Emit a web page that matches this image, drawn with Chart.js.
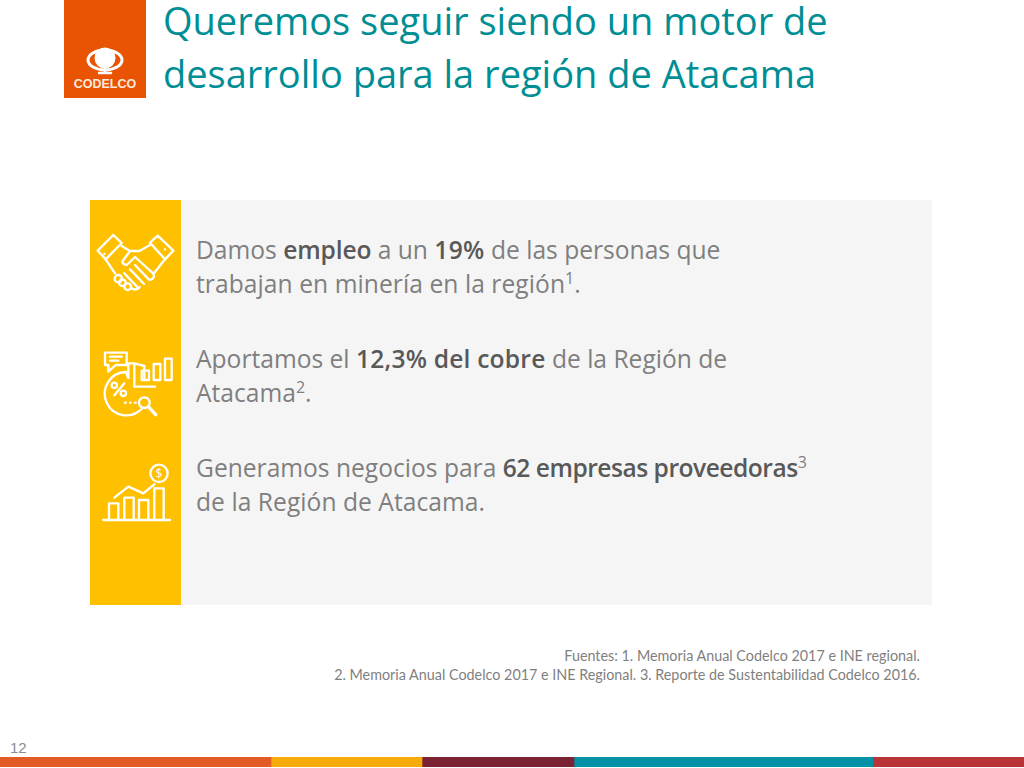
<!DOCTYPE html>
<html lang="es">
<head>
<meta charset="utf-8">
<title>Codelco Atacama</title>
<script src="https://cdn.jsdelivr.net/npm/chart.js@4"></script>
<style>
  html, body { margin: 0; padding: 0; background: #fff; overflow: hidden; }
  #slide { position: relative; width: 1024px; height: 768px; overflow: hidden; font-family: "Open Sans", sans-serif; }
  #slide > * { position: absolute; }
  .logo { left: 64px; top: 0; width: 82px; height: 98px; background: #e85403; }
  .panel { left: 90px; top: 200px; width: 842px; height: 405px; background: #f5f5f5; }
  .stripe { left: 90px; top: 200px; width: 90.5px; height: 405px; background: #ffc000; }
  .title { left: 163px; font-size: 38px; line-height: 44px; color: #008e95; white-space: nowrap; }
  .body { left: 196px; font-size: 24.6px; line-height: 34px; color: #7f7f7f; white-space: nowrap; }
  .body b { color: #595959; font-weight: 600; letter-spacing: -0.5px; }
  .body sup { font-size: 16px; line-height: 0; }
  .note { right: 104px; font-family: Lato, sans-serif; font-size: 14.35px; line-height: 19px; color: #7f7f7f; white-space: nowrap; }
  .page { left: 10px; top: 739px; font-family: "Liberation Sans", sans-serif; font-size: 15px; line-height: 18px; color: #8c8c8c; }
  svg { fill: none; stroke: #fff; stroke-width: 7; stroke-linecap: round; stroke-linejoin: round; }
  #strip { left: 0; top: 757px; }
</style>
</head>
<body>
<div id="slide">
  <div class="logo"></div>
  <svg style="left:64px;top:0" width="82" height="98" viewBox="0 0 82 98">
    <ellipse cx="41" cy="60" rx="17" ry="10" stroke-width="3"/>
    <circle cx="41" cy="58" r="10.5" fill="#fff" stroke="none"/>
    <path d="M41 68v5M35 73h12" stroke-width="2.5"/>
    <text x="41" y="88" text-anchor="middle" font-family="Liberation Sans" font-weight="700" font-size="12.5" fill="#fbe9dc" stroke="none">CODELCO</text>
  </svg>
  <div class="title" style="top:-2px">Queremos seguir siendo un motor de</div>
  <div class="title" style="top:51px">desarrollo para la región de Atacama</div>

  <div class="panel"></div>
  <div class="stripe"></div>

  <svg style="left:85px;top:220px" width="100" height="100" viewBox="0 0 300 300">
    <path d="M38 92 85 45l25 24-48 49zM195 68l23-21 47 45-25 26z"/>
    <path d="M58 102h0M240 88h0"/>
    <path d="M110 78l25 15h28l32-18M162 93h-27l-22 30q-3 10 12 12l25-24 55 50q6 12-8 18M62 118l28 42M240 118l-32 40"/>
    <path d="M135 148l42 44M150 135l42 44M118 160l40 42"/>
    <circle cx="100" cy="176" r="11"/><circle cx="112" cy="188" r="10"/><circle cx="128" cy="200" r="10"/>
    <path d="M140 205q16 8 24-4"/>
  </svg>

  <svg style="left:85px;top:340px" width="100" height="90" viewBox="0 0 300 270">
    <path d="M60 38h65v37H92L70 95V75H60z"/>
    <path d="M75 50h35M75 62h25"/>
    <path d="M122 96A65 65 0 1 0 172 205"/>
    <path d="M122 96l8 18V70M130 70h18v70h62M148 70l30 8v40"/>
    <path d="M170 92v28h22V92zM206 72v48h20V72zM240 56v64h20V56z"/>
    <circle cx="88" cy="136" r="8"/><circle cx="115" cy="160" r="8"/><path d="M118 130 88 166"/>
    <path d="M120 188h2M135 188h2M150 188h2"/>
    <circle cx="178" cy="188" r="16"/><path d="M190 200 212 224" stroke-width="10"/>
  </svg>

  <svg style="left:85px;top:455px" width="100" height="80" viewBox="0 0 300 240">
    <path d="M55 195H255"/>
    <path d="M72 195v-50h28v50M118 195v-67h28v67M162 195v-60h28v60M208 195v-95h28v95"/>
    <path d="M88 128l42-33 45 20 33-27"/>
    <circle cx="222" cy="55" r="26"/>
    <text x="222" y="68" text-anchor="middle" font-family="Open Sans" font-size="36" fill="#fff" stroke="none">$</text>
  </svg>

  <div class="body" style="top:233px">Damos <b style="letter-spacing:-0.15px">empleo</b> a un <b style="letter-spacing:0.3px">19%</b> de las personas que</div>
  <div class="body" style="top:267px;letter-spacing:0.07px">trabajan en minería en la región<sup>1</sup>.</div>
  <div class="body" style="top:342px">Aportamos el <b style="letter-spacing:0.2px">12,3% del cobre</b> de la Región de</div>
  <div class="body" style="top:376px">Atacama<sup>2</sup>.</div>
  <div class="body" style="top:451px">Generamos negocios para <b>62 empresas proveedoras</b><sup>3</sup></div>
  <div class="body" style="top:485px;letter-spacing:0.05px">de la Región de Atacama.</div>

  <div class="note" style="top:646px">Fuentes: 1. Memoria Anual Codelco 2017 e INE regional.</div>
  <div class="note" style="top:664.5px">2. Memoria Anual Codelco 2017 e INE Regional. 3. Reporte de Sustentabilidad Codelco 2016.</div>
  <div class="page">12</div>

  <canvas id="strip" width="1024" height="10"></canvas>
</div>

<script>
// footer strip segments, widths
const stripLabels = ["strip"];
const segmentValues = [271, 151, 152, 299, 151];
const segmentColors = ["#e45a25", "#f6ab0a", "#7b2233", "#0592a6", "#b93436"];

new Chart(document.getElementById("strip"), {
  type: "bar",
  data: {
    labels: stripLabels,
    datasets: segmentValues.map((v, i) => ({
      data: [v],
      backgroundColor: segmentColors[i],
      borderWidth: 0,
      barPercentage: 1,
      categoryPercentage: 1,
    })),
  },
  options: {
    indexAxis: "y",
    responsive: false,
    animation: false,
    layout: { padding: 0 },
    scales: {
      x: { stacked: true, display: false, min: 0, max: 1024 },
      y: { stacked: true, display: false },
    },
    plugins: { legend: { display: false }, tooltip: { enabled: false } },
  },
});
</script>
</body>
</html>
